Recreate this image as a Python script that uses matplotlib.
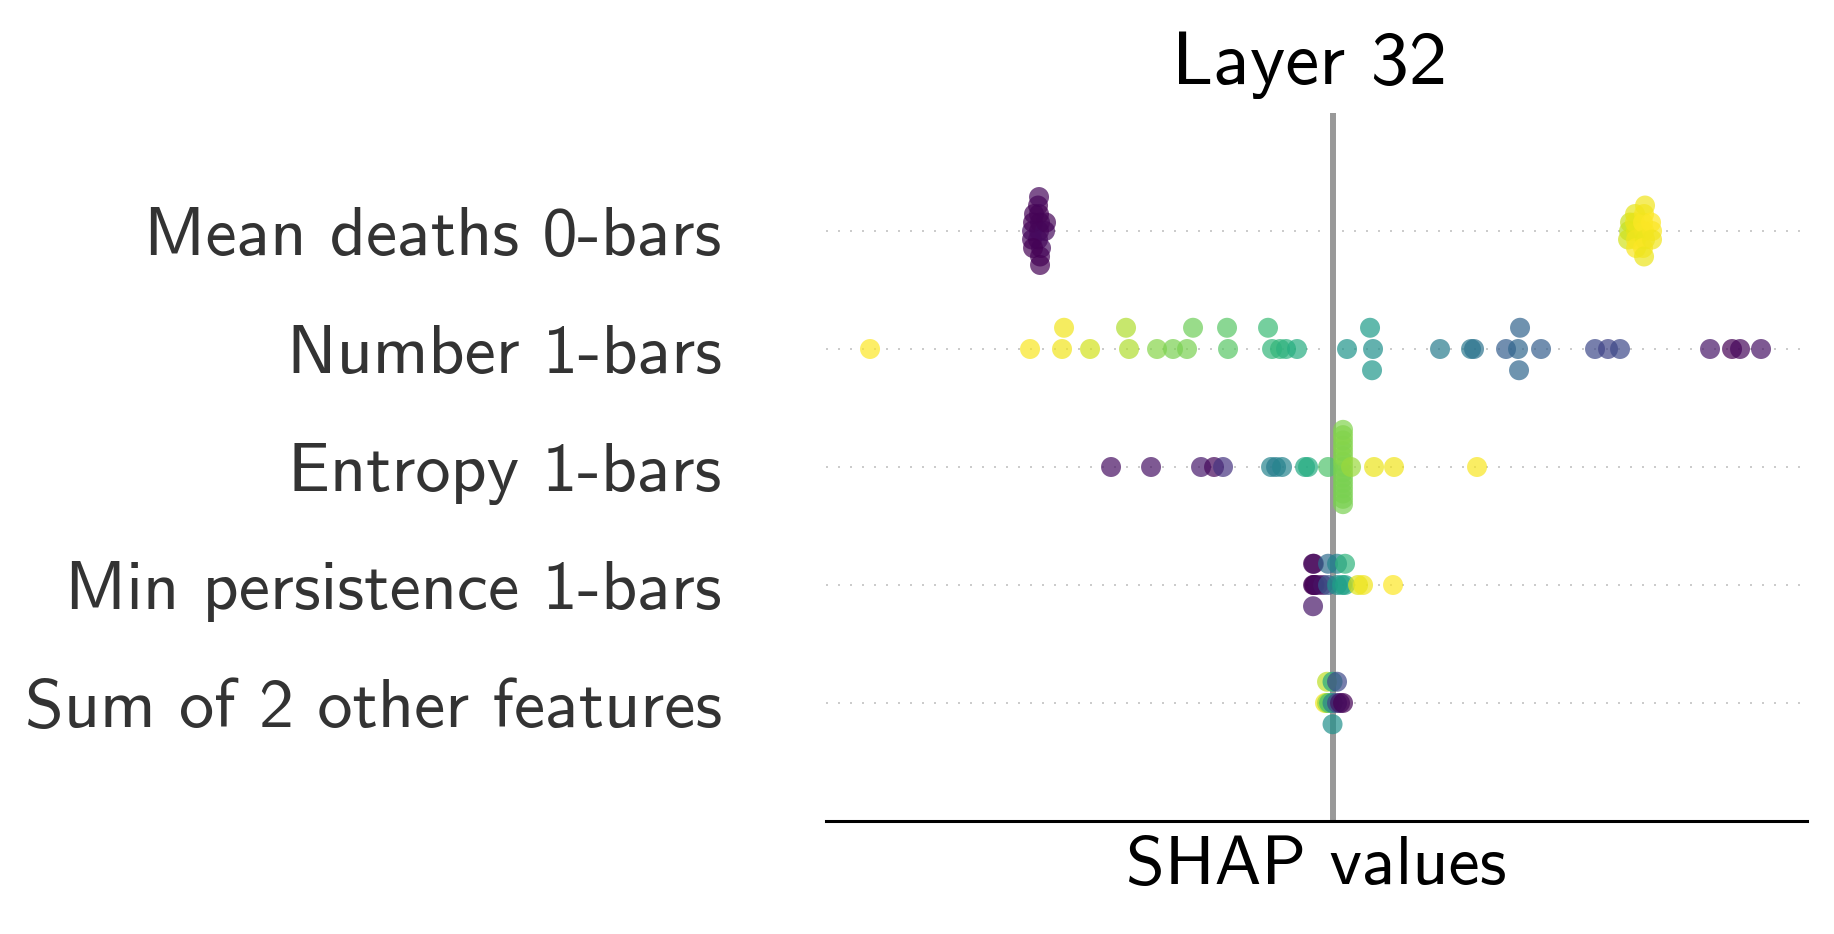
import matplotlib
matplotlib.use("Agg")
import matplotlib.pyplot as plt
import numpy as np

plt.rcParams["font.family"] = "cmss10"
plt.rcParams["mathtext.fontset"] = "cm"
plt.rcParams["axes.unicode_minus"] = False

# features, top to bottom
features = ["Mean deaths 0-bars", "Number 1-bars", "Entropy 1-bars",
            "Min persistence 1-bars", "Sum of 2 other features"]

# SHAP values and (normalised) feature values for each row
mean_deaths_shap = [-0.294, -0.293, -0.295, -0.294, -0.292, -0.295, -0.293, -0.294, -0.293,
                    -0.301, -0.300, -0.301, -0.299, -0.300, -0.288, -0.287,
                    0.296, 0.297, 0.295, 0.303, 0.302, 0.303, 0.302, 0.303,
                    0.311, 0.310, 0.312, 0.311, 0.310, 0.312, 0.311, 0.319, 0.318, 0.319]
mean_deaths_feat = [0.00, 0.02, 0.01, 0.00, 0.03, 0.00, 0.01, 0.02, 0.00,
                    0.04, 0.00, 0.02, 0.01, 0.00, 0.03, 0.01,
                    0.90, 0.92, 0.93, 0.96, 0.97, 0.98, 0.96, 0.99,
                    0.98, 1.00, 0.97, 0.99, 1.00, 0.98, 0.97, 0.99, 1.00, 0.98]

number_shap = [-0.463, -0.303, -0.271, -0.269, -0.243, -0.204, -0.207, -0.176, -0.160,
               -0.146, -0.140, -0.105, -0.106, -0.061, -0.065, -0.053, -0.047, -0.036,
               0.014, 0.040, 0.037, 0.039, 0.107, 0.138, 0.141, 0.173, 0.185, 0.187, 0.186,
               0.208, 0.262, 0.275, 0.287, 0.377, 0.399, 0.407, 0.428]
number_feat = [1.00, 0.99, 0.98, 0.98, 0.93, 0.88, 0.88, 0.82, 0.80,
               0.80, 0.78, 0.74, 0.74, 0.66, 0.68, 0.66, 0.64, 0.62,
               0.52, 0.50, 0.55, 0.53, 0.42, 0.40, 0.38, 0.30, 0.33, 0.32, 0.33,
               0.30, 0.22, 0.20, 0.22, 0.06, 0.00, 0.02, 0.05]

entropy_shap = [-0.222, -0.182, -0.132, -0.119, -0.110, -0.062, -0.057, -0.051, -0.028,
                -0.025, -0.005,
                0.010, 0.010, 0.010, 0.010, 0.010, 0.010, 0.010, 0.010,
                0.010, 0.010, 0.010, 0.010, 0.010, 0.010, 0.010,
                0.018, 0.041, 0.061, 0.144]
entropy_feat = [0.04, 0.05, 0.07, 0.02, 0.15, 0.45, 0.42, 0.45, 0.60,
                0.62, 0.72,
                0.80, 0.81, 0.80, 0.82, 0.80, 0.81, 0.80, 0.82,
                0.80, 0.81, 0.80, 0.82, 0.80, 0.81, 0.80,
                0.85, 0.97, 0.98, 0.99]

min_pers_shap = [-0.020, -0.020, -0.020, -0.0192, -0.0192, -0.0184, -0.015,
                 -0.010, -0.005, -0.005, 0.004, 0.004,
                 0.009, 0.012, 0.012, 0.025, 0.030, 0.060]
min_pers_feat = [0.00, 0.00, 0.06, 0.01, 0.02, 0.00, 0.03,
                 0.05, 0.28, 0.35, 0.50, 0.45,
                 0.55, 0.58, 0.65, 0.95, 0.98, 1.00]

other_shap = [-0.008, -0.006, -0.006, -0.004, -0.0005, -0.0005, -0.0005,
              0.004, 0.004, 0.007, 0.010]
other_feat = [0.98, 0.85, 0.90, 0.70, 0.45, 0.60, 0.50,
              0.20, 0.22, 0.05, 0.00]

rows_shap = [mean_deaths_shap, number_shap, entropy_shap, min_pers_shap, other_shap]
rows_feat = [mean_deaths_feat, number_feat, entropy_feat, min_pers_feat, other_feat]


def beeswarm_offsets(vals, nbins=100, row_height=0.4):
    # same stacking as shap's beeswarm, but deterministic
    vals = np.asarray(vals, dtype=float)
    quant = np.round(nbins * (vals - vals.min()) / (vals.max() - vals.min() + 1e-8))
    inds = np.argsort(quant, kind="stable")
    ys = np.zeros(len(vals))
    layer = 0
    last_bin = -1
    for ind in inds:
        if quant[ind] != last_bin:
            layer = 0
        ys[ind] = np.ceil(layer / 2) * ((layer % 2) * 2 - 1)
        layer += 1
        last_bin = quant[ind]
    ys *= 0.9 * (row_height / np.max(ys + 1))
    return ys


fig = plt.figure(figsize=(18.34, 9.34), dpi=100)
ax = fig.add_axes([0.4504, 0.121, 0.5349, 0.758])

n = len(features)
for i, (shaps, feats) in enumerate(zip(rows_shap, rows_feat)):
    pos = n - 1 - i
    ax.axhline(y=pos, color="#cccccc", lw=1.44, dashes=(1, 5), zorder=-1)
    ys = beeswarm_offsets(shaps)
    ax.scatter(shaps, pos + ys, c=feats, cmap="viridis", vmin=0, vmax=1,
               s=207, alpha=0.7, linewidth=0, zorder=3)

ax.axvline(x=0, color="#999999", lw=4.3, zorder=-1)

ax.set_xlim(-0.507, 0.474)
ax.set_ylim(-1, n)
ax.set_yticks(range(n))
ax.set_yticklabels(features[::-1], fontsize=50.5, color="#333333")
ax.tick_params(axis="y", length=0, pad=75)
ax.set_xticks([])
for side in ["top", "right", "left"]:
    ax.spines[side].set_visible(False)
ax.spines["bottom"].set_linewidth(2.2)
ax.spines["bottom"].set_color("black")

ax.set_title("Layer 32", fontsize=55, pad=21, x=0.493)
ax.set_xlabel("SHAP values", fontsize=50.5, labelpad=11)

fig.savefig("out.png", dpi=100)
